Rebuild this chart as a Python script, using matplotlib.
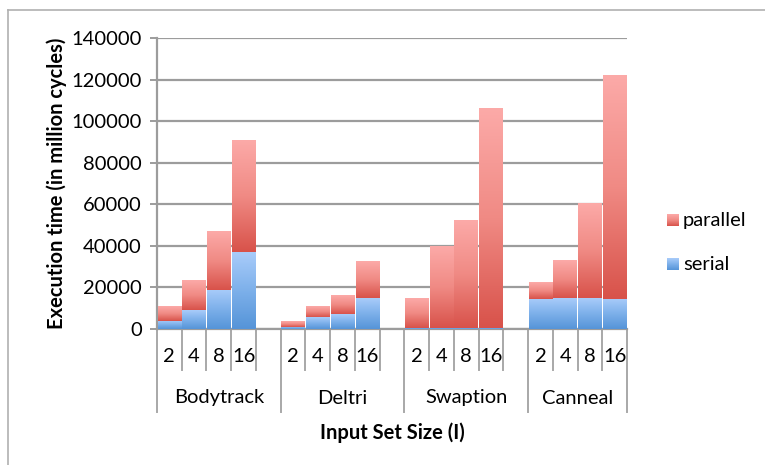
import numpy as np
import matplotlib.pyplot as plt
from matplotlib.colors import LinearSegmentedColormap
from matplotlib.transforms import blended_transform_factory

plt.rcParams['font.family'] = ['Lato', 'DejaVu Sans']

# ────────────────────────────────────────────────
# Data
# ────────────────────────────────────────────────
groups = ["Bodytrack", "Deltri", "Swaption", "Canneal"]
sizes = ["2", "4", "8", "16"]
serial = [4000, 9000, 19000, 37000,
          1000, 5600, 7200, 14800,
          600, 500, 500, 500,
          14500, 14900, 14900, 14500]
parallel_total = [11000, 23000, 47200, 90500,
                  3700, 10500, 16300, 32300,
                  14900, 39900, 52400, 106000,
                  22500, 33100, 60200, 121800]
parallel = [t - s for t, s in zip(parallel_total, serial)]

W, H = 765, 465
FS = 14.5
fig = plt.figure(figsize=(W / 100, H / 100), dpi=100)

# outer chart border (only top and left edges visible in the crop)
fig.add_artist(plt.Line2D([8 / W, 8 / W], [0, 1 - 10 / H], color='#b0b0b0', lw=1.2))
fig.add_artist(plt.Line2D([8 / W, 1], [1 - 10 / H, 1 - 10 / H], color='#b0b0b0', lw=1.2))

ax = fig.add_axes([157 / W, (H - 329) / H, 470 / W, 291 / H])

# slot positions: 4 per group, one blank slot between groups
xpos = [g * 5 + i for g in range(len(groups)) for i in range(len(sizes))]

red_cmap = LinearSegmentedColormap.from_list('red', ['#d8524a', '#f08a84', '#fcaaa8'])
blue_cmap = LinearSegmentedColormap.from_list('blue', ['#5594d8', '#7db0ea', '#a9ccfa'])
grad = np.linspace(0, 1, 256).reshape(-1, 1)


def gradient_bars(bars, cmap):
    for b in bars:
        x0, y0 = b.get_x(), b.get_y()
        x1, y1 = x0 + b.get_width(), y0 + b.get_height()
        ax.imshow(grad, cmap=cmap, extent=[x0, x1, y0, y1], origin='lower',
                  aspect='auto', zorder=3, interpolation='bilinear')
        b.set_visible(False)


bw = 0.95
b_serial = ax.bar(xpos, serial, width=bw, zorder=3)
b_par = ax.bar(xpos, parallel, bottom=serial, width=bw, zorder=3)
gradient_bars(b_serial, blue_cmap)
gradient_bars(b_par, red_cmap)

ax.set_xlim(-0.5, 18.5)
ax.set_ylim(0, 140000)
ax.set_yticks(np.arange(0, 140001, 20000))
ax.set_yticklabels([f"{v}" for v in range(0, 140001, 20000)], fontsize=FS)
ax.yaxis.grid(True, color='#9c9c9c', lw=1.6, zorder=0)
ax.set_axisbelow(True)
for s in ['top', 'right']:
    ax.spines[s].set_visible(False)
ax.spines['left'].set_color('#9c9c9c')
ax.spines['left'].set_linewidth(1.6)
ax.spines['bottom'].set_color('#9c9c9c')
ax.spines['bottom'].set_linewidth(1.6)
ax.tick_params(axis='y', length=5, width=1.4, pad=6, colors='#9c9c9c', labelcolor='#000000')
ax.set_xticks([])

# multi-level category axis drawn below the plot
tr = blended_transform_factory(ax.transData, ax.transAxes)
px = 1 / 291.0
row1_end = -(370 - 329) * px
row2_end = -(412 - 329) * px
for k in range(20):
    xb = k - 0.5
    group_edge = k % 5 == 0 or k == 19
    yend = row2_end if group_edge else row1_end
    ax.plot([xb, xb], [0, yend], transform=tr, color='#a8a8a8', lw=1.4, clip_on=False)
for x, lab in zip(xpos, sizes * len(groups)):
    ax.text(x, -(357 - 329) * px, lab, transform=tr, ha='center', va='center',
            fontsize=FS, color='#000000')
group_centers = [2, 7, 12, 16.5]
for xc, name in zip(group_centers, groups):
    ax.text(xc, -(398 - 329) * px, name, transform=tr,
            ha='center', va='center', fontsize=FS, color='#000000')

fig.text(392 / W, 1 - 433 / H, "Input Set Size (I)", ha='center', va='center',
         fontsize=FS, fontweight='bold', color='#000000')
fig.text(57 / W, 1 - 183 / H, "Execution time (in million cycles)", ha='center',
         va='center', rotation=90, fontsize=FS, fontweight='bold', color='#000000')

# legend with gradient swatches
for label, cmap, yc in [("parallel", red_cmap, 220), ("serial", blue_cmap, 264)]:
    sw = fig.add_axes([667 / W, 1 - (yc + 6) / H, 12 / W, 12 / H])
    sw.imshow(grad, cmap=cmap, origin='lower', aspect='auto')
    sw.axis('off')
    fig.text(683 / W, 1 - yc / H, label, ha='left', va='center', fontsize=FS,
             color='#000000')

fig.savefig('out.png', dpi=100)
